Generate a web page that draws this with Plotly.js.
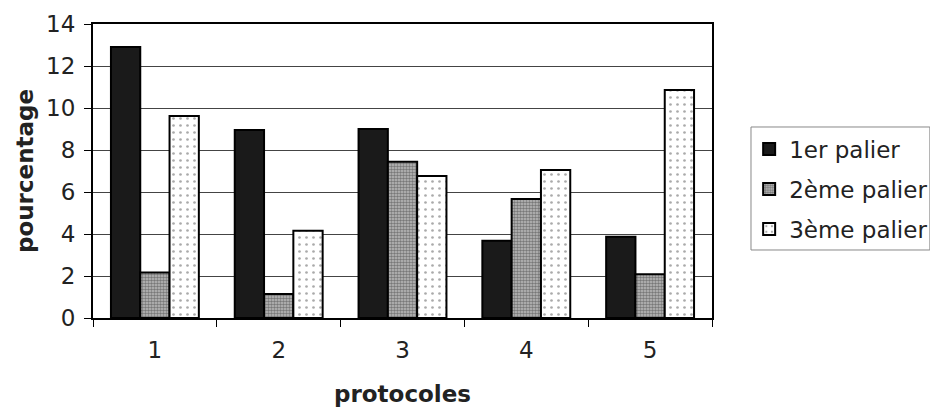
<!DOCTYPE html>
<html><head><meta charset="utf-8">
<script src="https://cdn.plot.ly/plotly-3.0.1.min.js"></script>
<style>body{margin:0;background:#fff}#c{width:930px;height:412px}</style>
</head><body><div id="c"></div>
<script>
const categories = ['1','2','3','4','5'];
const palier1 = [12.9, 8.95, 9.0, 3.68, 3.87];
const palier2 = [2.17, 1.14, 7.44, 5.67, 2.08];
const palier3 = [9.62, 4.16, 6.76, 7.05, 10.86];
const seriesNames = ['1er palier','2ème palier','3ème palier'];

const line = {color:'#000', width:2};
const traces = [
  {type:'bar', name:seriesNames[0], x:categories, y:palier1, legend:'legend',
   marker:{color:'#1a1a1a', line:line}},
  {type:'bar', name:seriesNames[1], x:categories, y:palier2, legend:'legend2',
   marker:{color:'#c0c0c0', line:line, pattern:{shape:'.', fgcolor:'#333', bgcolor:'#bdbdbd', size:3, solidity:0.55, fillmode:'overlay'}}},
  {type:'bar', name:seriesNames[2], x:categories, y:palier3, legend:'legend3',
   marker:{color:'#ffffff', line:line, pattern:{shape:'.', fgcolor:'#555', bgcolor:'#fff', size:7, solidity:0.12, fillmode:'overlay'}}}
];
const fam = 'DejaVu Sans, Verdana, sans-serif';
function leg(y){ return {x:1.06, y:y, xanchor:'left', yanchor:'middle', bgcolor:'rgba(0,0,0,0)', borderwidth:0,
  font:{size:23, family:fam, color:'#222'}, itemwidth:30}; }
const layout = {
  width:930, height:412,
  margin:{l:93, r:218, t:24, b:94, autoexpand:false},
  paper_bgcolor:'#fff', plot_bgcolor:'#fff',
  font:{family:fam, color:'#111'},
  barmode:'group', bargap:0.29, bargroupgap:0,
  xaxis:{type:'category', showline:true, linecolor:'#000', linewidth:2, mirror:true,
    ticks:'outside', ticklen:7, tickcolor:'#000', tickson:'boundaries', ticklabelstandoff:10,
    tickfont:{size:23, family:fam, color:'#222'}, automargin:false,
    title:{text:'<b>protocoles</b>', font:{size:23, family:fam, color:'#222'}, standoff:24}},
  yaxis:{range:[0,14], dtick:2, showline:true, linecolor:'#000', linewidth:2, mirror:true,
    ticks:'outside', ticklen:7, tickcolor:'#000', ticklabelstandoff:4, automargin:false,
    showgrid:true, gridcolor:'#444', gridwidth:1, zeroline:false,
    tickfont:{size:23, family:fam, color:'#222'},
    title:{text:'<b>pourcentage</b>', font:{size:23, family:fam, color:'#222'}, standoff:6}},
  legend:leg(0.5748), legend2:leg(0.4388), legend3:leg(0.3027),
  shapes:[{type:'rect', xref:'paper', yref:'paper', x0:1.063, x1:1.352, y0:0.2313, y1:0.6497,
    line:{color:'#888', width:1}, fillcolor:'rgba(0,0,0,0)', layer:'below'}],
  showlegend:true
};
Plotly.newPlot('c', traces, layout, {displayModeBar:false, staticPlot:true});
</script></body></html>
